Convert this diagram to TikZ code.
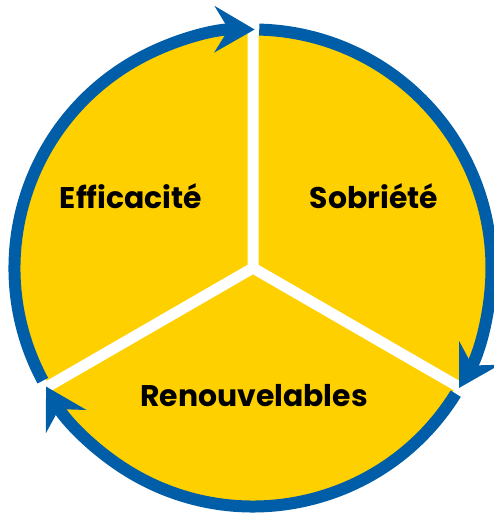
\documentclass[tikz,border=0pt]{standalone}
\usepackage{fontspec}
\setmainfont{Poppins}
\usetikzlibrary{arrows.meta}
\definecolor{cyclegold}{RGB}{255,208,0}
\definecolor{cycleblue}{RGB}{0,94,168}
\tikzset{
  ring/.style={cycleblue, line width=0.24cm, -{Stealth[length=0.8cm, width=0.92cm, inset=0.28cm]}},
  spoke/.style={white, line width=0.22cm},
  pillar/.style={font=\bfseries\fontsize{17}{20}\selectfont, text=black, anchor=base, inner sep=0pt}
}
\begin{document}
\begin{tikzpicture}[x=0.02cm, y=0.02cm]
\useasboundingbox (-253,-245) rectangle (240,268);
%
\fill [cyclegold] (0,0) circle [radius=235];
%
\coordinate (C) at (0,0);
\draw [spoke, line join=miter] (90:246) -- (C) -- (-30:246);
\draw [spoke] (C) -- (210:246);
%
\draw [ring] (88.5:238.5) arc [start angle=88.5, end angle=-30.2, radius=238.5];
\draw [ring] (-31.8:238.5) arc [start angle=-31.8, end angle=-150.2, radius=238.5];
\draw [ring] (208.2:238.5) arc [start angle=208.2, end angle=89.6, radius=238.5];
%
\node [pillar] (eff) at (-122,59) {Efficacité};
\node [pillar] (sob) at (121,59) {Sobriété};
\node [pillar] (ren) at (1,-138) {Renouvelables};
%%%%%%%%%%%%%%%%%%%%%%%%%%%%%%%
\end{tikzpicture}
\end{document}
